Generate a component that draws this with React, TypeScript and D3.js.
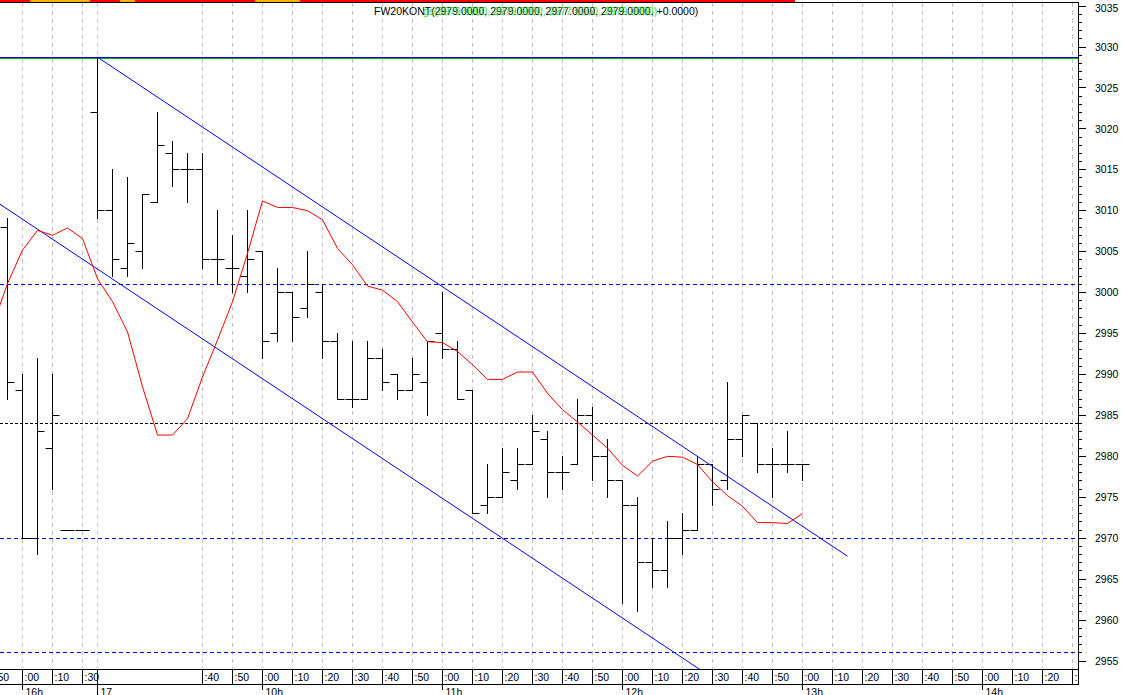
import React from "react";
import * as d3 from "d3";

// chart size
const W = 1122;
const H = 695;
const PLOT_RIGHT = 1078;
const PLOT_TOP = 3;
const PLOT_BOTTOM = 669;
const ROW_BOTTOM = 684;

// 5-minute OHLC bars (index 0 = 15:55 on day 16, index 53 = 13:00)
const opens = [
  3008, 2988, 2970, 2981, 2971, 2971, 3022, 3010, 3003, 3005,
  3011, 3017, 3015, 3015, 3004, 3003, 3002, 3005, 2995, 3000,
  2998, 3000, 2994, 2987, 2987, 2992, 2990, 2988, 2989, 2995,
  2993, 2988, 2974, 2975, 2977, 2979, 2982, 2978, 2979, 2985,
  2980, 2977, 2974, 2967, 2966, 2970, 2971, 2979, 2977, 2982,
  2984, 2979, 2979, 2979,
];
const highs = [
  3009, 2990, 2992, 2990, 2971, 2971, 3028.75, 3015, 3014, 3012,
  3022, 3018.5, 3017, 3017, 3010, 3007, 3010, 3005, 3003, 3000,
  3005, 3001, 2995, 2994, 2994, 2993, 2990, 2992, 2994, 3000,
  2994, 2988, 2979, 2981, 2981, 2985, 2983, 2980, 2987, 2986,
  2982, 2977, 2975, 2970, 2972, 2973, 2980, 2979, 2989, 2985,
  2984, 2981, 2983, 2979,
];
const lows = [
  2987, 2970, 2968, 2976, 2971, 2971, 3009, 3002, 3002, 3003,
  3011, 3013, 3011, 3003, 3001, 3000, 3000, 2992, 2994, 2994,
  2997, 2992, 2987, 2986, 2987, 2988, 2987, 2988, 2985, 2992,
  2987, 2973, 2973, 2975, 2976, 2979, 2975, 2976, 2979, 2977,
  2975, 2962, 2961, 2964, 2964, 2968, 2971, 2974, 2976, 2980,
  2978, 2975, 2978, 2977,
];
const closes = [
  2989, 2970, 2983, 2985, 2971, 2971, 3010, 3004, 3006, 3012,
  3018, 3015, 3015, 3004, 3004, 3003, 3004, 2994, 3000, 2997,
  3001, 2994, 2987, 2987, 2992, 2989, 2988, 2990, 2994, 2993,
  2987, 2973, 2975, 2978, 2979, 2983, 2978, 2978, 2985, 2980,
  2977, 2974, 2967, 2966, 2970, 2971, 2979, 2976, 2982, 2985,
  2979, 2979, 2979, 2979,
];

// red indicator line, starting at index -1
const RED_START = -1;
const redValues = [
  2995.9, 3001.1, 3005.2, 3007.6, 3007.0, 3007.9, 3006.6, 3001.7, 2998.9, 2995.2,
  2988.5, 2982.6, 2982.6, 2984.6, 2989.7, 2994.2, 2998.9, 3004.8, 3011.2, 3010.4,
  3010.4, 3010.0, 3008.9, 3005.4, 3003.4, 3000.8, 3000.3, 2998.9, 2996.4, 2994.0,
  2993.9, 2992.8, 2991.2, 2989.4, 2989.4, 2990.3, 2990.3, 2987.7, 2985.7, 2984.2,
  2982.6, 2981.0, 2978.9, 2977.6, 2979.4, 2980.0, 2979.9, 2979.0, 2976.9, 2975.2,
  2973.9, 2971.9, 2971.9, 2971.8, 2973.0,
];

// trend channel (index, value)
const upperTrend: [number, number][] = [[6, 3028.75], [56, 2967.8]];
const lowerTrend: [number, number][] = [[-1, 3011.4], [49, 2950.5]];

// horizontal levels
const blueLevels = [3001, 2970, 2956];
const blackLevels = [2984];
const blueTopLevel = 3028.75;
const greenTopLevel = 3028.6;

// top strip colouring
const stripFirst = -1;
const stripLast = 52;
const stripOrange = [2, 3, 4, 5, 8, 17, 18, 19];

// axis ticks
const yLabels = [2955, 2960, 2965, 2970, 2975, 2980, 2985, 2990, 2995, 3000, 3005, 3010, 3015, 3020, 3025, 3030, 3035];
const timeTickIdx = [-1, 1, 3, 5, 13, 15, 17, 19, 21, 23, 25, 27, 29, 31, 33, 35, 37, 39, 41, 43, 45, 47, 49, 51, 53, 55, 57, 59, 61, 63, 65, 67, 69, 71];
const timeTickLabels = [":50", ":00", ":10", ":30", ":40", ":50", ":00", ":10", ":20", ":30", ":40", ":50", ":00", ":10", ":20", ":30", ":40", ":50", ":00", ":10", ":20", ":30", ":40", ":50", ":00", ":10", ":20", ":30", ":40", ":50", ":00", ":10", ":20", ":30"];
const hourTickIdx = [1, 6, 17, 29, 41, 53, 65];
const hourTickLabels = ["16h", "17", "10h", "11h", "12h", "13h", "14h"];
const dayTickIdx = [6];

const titleText = "FW20KONT(2979.0000, 2979.0000, 2977.0000, 2979.0000, +0.0000)";
const titleGreen = "gs(2979.0000, 2979.0000, 2977.0000, 2979.0000)";

const FONT = "'Liberation Sans', Arial, sans-serif";

const App: React.FC = () => {
  const x = d3.scaleLinear().domain([0, 1]).range([7.5, 22.5]);
  const y = d3.scaleLinear().domain([2955, 3030]).range([661, 47]);
  // pixel-snapped y for 1px lines
  const sy = (v: number) => Math.round(y(v) - 0.5) + 0.5;

  const redLine = d3
    .line<number>()
    .x((_, i) => x(RED_START + i))
    .y((d) => y(d));

  const trendPath = (pts: [number, number][]) =>
    d3.line<[number, number]>().x((d) => x(d[0])).y((d) => y(d[1]))(pts) || "";

  const minorTicks = y.copy().domain([2955, 3035]).ticks(80);

  const gridIdx = [...timeTickIdx, ...dayTickIdx];
  const stripIdx = d3.range(stripFirst, stripLast + 1);

  // keep green directly under the blue resistance line
  const blueY = sy(blueTopLevel);
  const greenY = Math.max(sy(greenTopLevel), blueY + 1);

  return (
    <div style={{ position: "fixed", left: 0, top: 0 }}>
      <svg width={W} height={H} style={{ display: "block", background: "#fff" }}>
        <defs>
          <clipPath id="plot">
            <rect x={0} y={PLOT_TOP} width={PLOT_RIGHT} height={PLOT_BOTTOM - PLOT_TOP} />
          </clipPath>
          <clipPath id="row">
            <rect x={0} y={PLOT_BOTTOM} width={PLOT_RIGHT} height={H - PLOT_BOTTOM} />
          </clipPath>
        </defs>

        {/* top strip */}
        {stripIdx.map((i) => (
          <rect
            key={"s" + i}
            x={x(i) - 7.5}
            y={0}
            width={15}
            height={2}
            fill={stripOrange.includes(i) ? "#ffb400" : "#ff0000"}
          />
        ))}
        <line x1={0} x2={PLOT_RIGHT} y1={2.5} y2={2.5} stroke="#000" />

        <g clipPath="url(#plot)">
          {/* vertical grid */}
          {gridIdx.map((i) => (
            <line
              key={"g" + i}
              x1={Math.round(x(i) - 0.5) + 0.5}
              x2={Math.round(x(i) - 0.5) + 0.5}
              y1={PLOT_TOP}
              y2={PLOT_BOTTOM}
              stroke="#c0c0c0"
              strokeDasharray="4,4"
            />
          ))}

          {/* horizontal levels */}
          {blueLevels.map((v) => (
            <line key={"b" + v} x1={0} x2={PLOT_RIGHT} y1={sy(v)} y2={sy(v)} stroke="#0000ff" strokeDasharray="4,3" />
          ))}
          {blackLevels.map((v) => (
            <line key={"k" + v} x1={0} x2={PLOT_RIGHT} y1={sy(v)} y2={sy(v)} stroke="#000" strokeDasharray="3,2" />
          ))}
          <line x1={0} x2={PLOT_RIGHT} y1={greenY} y2={greenY} stroke="#00b000" />
          <line x1={0} x2={PLOT_RIGHT} y1={blueY} y2={blueY} stroke="#0000ff" />

          {/* OHLC bars */}
          {opens.map((o, i) => {
            const cx = x(i);
            return (
              <g key={"bar" + i} stroke="#000" strokeWidth={1}>
                <line x1={cx} x2={cx} y1={sy(highs[i]) - 0.5} y2={sy(lows[i]) + 0.5} />
                <line x1={cx - 7} x2={cx} y1={sy(o)} y2={sy(o)} />
                <line x1={cx} x2={cx + 7} y1={sy(closes[i])} y2={sy(closes[i])} />
              </g>
            );
          })}

          {/* trend channel */}
          <path d={trendPath(upperTrend)} stroke="#0000ff" fill="none" />
          <path d={trendPath(lowerTrend)} stroke="#0000ff" fill="none" />

          {/* red indicator */}
          <path d={redLine(redValues) || ""} stroke="#ff0000" fill="none" />
        </g>

        {/* title */}
        <text x={374} y={15} fontFamily={FONT} fontSize={10.5} fill="#000">
          {titleText}
        </text>
        <text x={423} y={15} fontFamily={FONT} fontSize={10.5} fill="#22dd22" opacity={0.9}>
          {titleGreen}
        </text>

        {/* time axis row */}
        <line x1={0} x2={PLOT_RIGHT} y1={PLOT_BOTTOM + 0.5} y2={PLOT_BOTTOM + 0.5} stroke="#000" />
        <line x1={0} x2={PLOT_RIGHT} y1={ROW_BOTTOM + 0.5} y2={ROW_BOTTOM + 0.5} stroke="#000" />
        <g clipPath="url(#row)">
          {timeTickIdx.map((i, k) => {
            const px = Math.round(x(i) - 0.5) + 0.5;
            return (
              <g key={"t" + i}>
                <line x1={px} x2={px} y1={PLOT_BOTTOM} y2={ROW_BOTTOM} stroke="#000" />
                <text x={px + 2} y={681} fontFamily={FONT} fontSize={10.5} fill="#000">
                  {timeTickLabels[k]}
                </text>
              </g>
            );
          })}
          {hourTickIdx.map((i, k) => {
            const px = Math.round(x(i) - 0.5) + 0.5;
            const isDay = dayTickIdx.includes(i);
            return (
              <g key={"h" + i}>
                <line x1={px} x2={px} y1={isDay ? PLOT_BOTTOM : ROW_BOTTOM} y2={isDay ? H : 690} stroke="#000" />
                <text x={px + 3} y={696} fontFamily={FONT} fontSize={10.5} fill="#000">
                  {hourTickLabels[k]}
                </text>
              </g>
            );
          })}
        </g>

        {/* right value axis */}
        <line x1={PLOT_RIGHT + 0.5} x2={PLOT_RIGHT + 0.5} y1={2} y2={ROW_BOTTOM + 1} stroke="#000" />
        {minorTicks.map((v) => (
          <line
            key={"m" + v}
            x1={PLOT_RIGHT}
            x2={PLOT_RIGHT + (v % 5 === 0 ? 8 : 4)}
            y1={sy(v)}
            y2={sy(v)}
            stroke="#000"
          />
        ))}
        {yLabels.map((v) => (
          <text
            key={"y" + v}
            x={1095}
            y={Math.max(y(v), 8)}
            dy="0.35em"
            fontFamily={FONT}
            fontSize={10.5}
            fill="#000"
          >
            {v}
          </text>
        ))}
      </svg>
    </div>
  );
};

export default App;
